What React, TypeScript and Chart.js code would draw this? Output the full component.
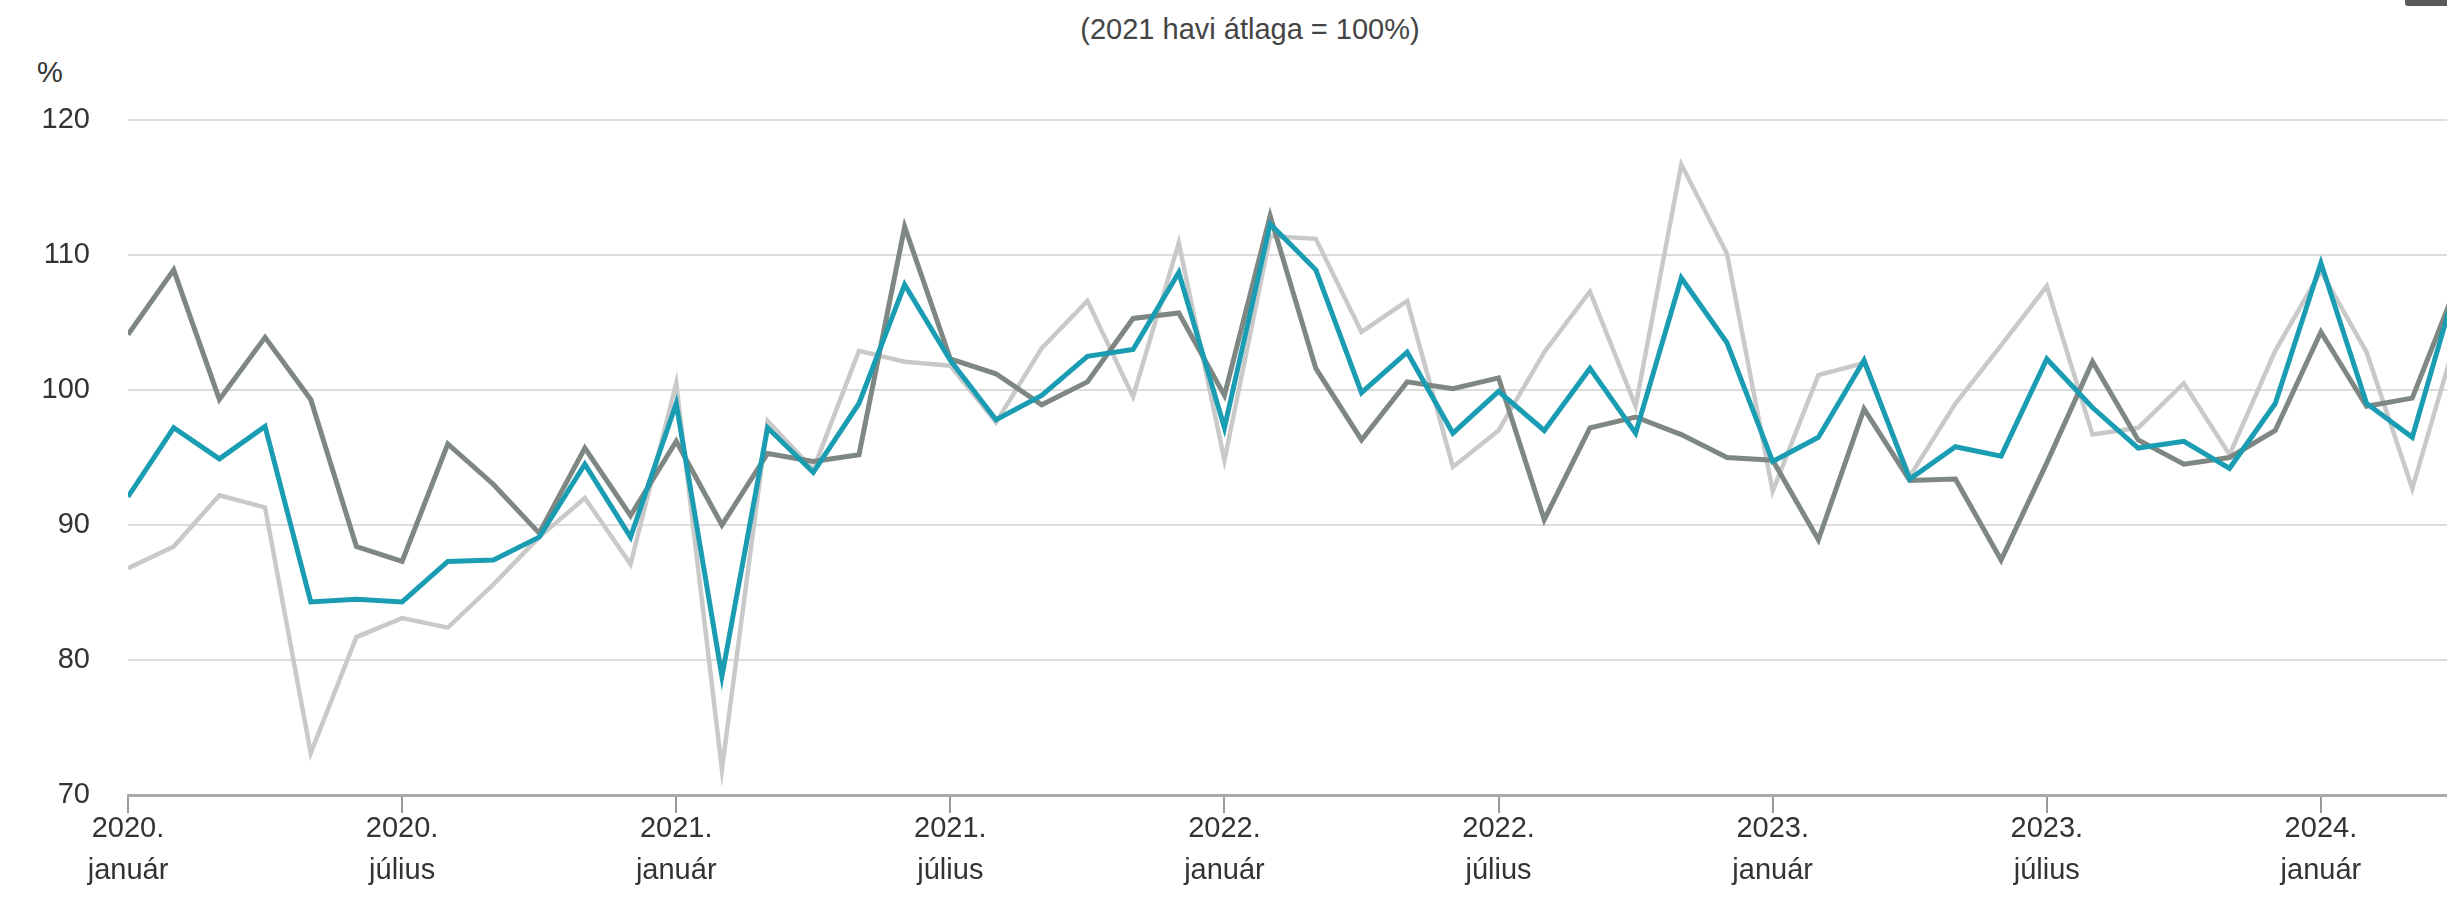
import React, { useEffect, useRef } from "react";
import { Chart, registerables } from "chart.js";

Chart.register(...registerables);

// Month index 0 = 2020. január
const tickIndexes = [0, 6, 12, 18, 24, 30, 36, 42, 48];
const tickYears = ["2020.", "2020.", "2021.", "2021.", "2022.", "2022.", "2023.", "2023.", "2024."];
const tickMonths = ["január", "július", "január", "július", "január", "július", "január", "július", "január"];

const seriesTeal = [
  92.1, 97.2, 94.9, 97.3, 84.3, 84.5, 84.3, 87.3, 87.4, 89.1, 94.5, 89.1,
  99.0, 78.8, 97.2, 93.9, 99.0, 107.8, 102.2, 97.8, 99.6, 102.5, 103.0, 108.7,
  97.2, 112.3, 108.9, 99.8, 102.8, 96.8, 99.9, 97.0, 101.6, 96.8, 108.3, 103.5,
  94.7, 96.5, 102.2, 93.4, 95.8, 95.1, 102.3, 98.7, 95.7, 96.2, 94.2, 99.0,
  109.4, 99.0, 96.5, 108.2,
];

const seriesDark = [
  104.1, 108.9, 99.3, 103.9, 99.3, 88.4, 87.3, 96.0, 93.0, 89.4, 95.7, 90.7,
  96.2, 90.0, 95.3, 94.7, 95.2, 112.1, 102.3, 101.2, 98.9, 100.6, 105.3, 105.7,
  99.6, 112.9, 101.6, 96.3, 100.6, 100.1, 100.9, 90.4, 97.2, 98.0, 96.7, 95.0,
  94.8, 88.9, 98.6, 93.3, 93.4, 87.4, 94.6, 102.1, 96.3, 94.5, 95.0, 97.0,
  104.3, 98.8, 99.4, 108.0,
];

const seriesLight = [
  86.8, 88.4, 92.2, 91.3, 73.1, 81.7, 83.1, 82.4, 85.6, 89.1, 92.0, 87.1,
  100.5, 71.9, 97.7, 94.1, 102.9, 102.1, 101.8, 97.6, 103.1, 106.6, 99.5, 110.9,
  94.8, 111.4, 111.2, 104.3, 106.6, 94.3, 97.0, 102.8, 107.3, 98.8, 116.7, 110.1,
  92.5, 101.1, 102.0, 93.6, 99.0, 103.3, 107.7, 96.7, 97.2, 100.5, 95.2, 102.9,
  108.8, 102.8, 92.7, 104.3,
];

const yTicks = [70, 80, 90, 100, 110, 120];

const FONT = "'Liberation Sans', Arial, 'DejaVu Sans', sans-serif";

function toPoints(arr: number[]) {
  return arr.map((v, i) => ({ x: i, y: v }));
}

export default function App() {
  const canvasRef = useRef<HTMLCanvasElement | null>(null);

  useEffect(() => {
    const canvas = canvasRef.current;
    if (!canvas) return;
    const chart = new Chart(canvas, {
      type: "line",
      data: {
        datasets: [
          {
            data: toPoints(seriesTeal),
            borderColor: "#1a9db2",
            borderWidth: 5,
            pointRadius: 0,
            tension: 0,
          },
          {
            data: toPoints(seriesDark),
            borderColor: "#7f8782",
            borderWidth: 5,
            pointRadius: 0,
            tension: 0,
          },
          {
            data: toPoints(seriesLight),
            borderColor: "#c9c9c9",
            borderWidth: 4.5,
            pointRadius: 0,
            tension: 0,
          },
        ],
      },
      options: {
        responsive: false,
        animation: false,
        layout: { padding: { top: 120, left: 0, right: 0, bottom: 0 } },
        plugins: {
          legend: { display: false },
          tooltip: { enabled: false },
        },
        scales: {
          x: {
            type: "linear",
            min: 0,
            max: 50.76,
            afterBuildTicks: (scale: any) => {
              scale.ticks = tickIndexes.map((v) => ({ value: v }));
            },
            afterFit: (scale: any) => {
              scale.height = 126;
            },
            ticks: {
              autoSkip: false,
              maxRotation: 0,
              padding: -5,
              color: "#333",
              font: { family: FONT, size: 29, lineHeight: 1.45 },
              callback: (value: any) => {
                const k = tickIndexes.indexOf(Number(value));
                return k >= 0 ? [tickYears[k], tickMonths[k]] : "";
              },
            },
            grid: {
              drawOnChartArea: false,
              drawTicks: true,
              tickLength: 18,
              color: "#9a9a9a",
              lineWidth: 2,
            },
            border: { display: true, color: "#aaaaaa", width: 3 },
          },
          y: {
            min: 70,
            max: 120,
            afterBuildTicks: (scale: any) => {
              scale.ticks = yTicks.map((v) => ({ value: v }));
            },
            afterFit: (scale: any) => {
              scale.width = 128;
            },
            ticks: {
              padding: 38,
              color: "#333",
              font: { family: FONT, size: 29 },
            },
            grid: {
              drawTicks: false,
              color: "#dcdcdc",
              lineWidth: 2,
            },
            border: { display: false },
          },
        },
      },
    });
    return () => chart.destroy();
  }, []);

  return (
    <div
      style={{
        position: "absolute",
        left: 0,
        top: 0,
        width: 2447,
        height: 921,
        background: "#ffffff",
        overflow: "hidden",
        fontFamily: FONT,
      }}
    >
      <div
        style={{
          position: "absolute",
          left: 0,
          width: 2500,
          top: 11,
          textAlign: "center",
          fontSize: 29,
          lineHeight: "36px",
          color: "#444",
        }}
      >
        (2021 havi átlaga = 100%)
      </div>
      <div
        style={{
          position: "absolute",
          left: 37,
          top: 54,
          fontSize: 29,
          lineHeight: "36px",
          color: "#333",
        }}
      >
        %
      </div>
      <div
        style={{
          position: "absolute",
          left: 2405,
          top: 0,
          width: 42,
          height: 6,
          background: "#5a5a5a",
          borderBottomLeftRadius: 3,
        }}
      />
      <canvas
        ref={canvasRef}
        width={2447}
        height={921}
        style={{ position: "absolute", left: 0, top: 0, width: 2447, height: 921 }}
      />
    </div>
  );
}
